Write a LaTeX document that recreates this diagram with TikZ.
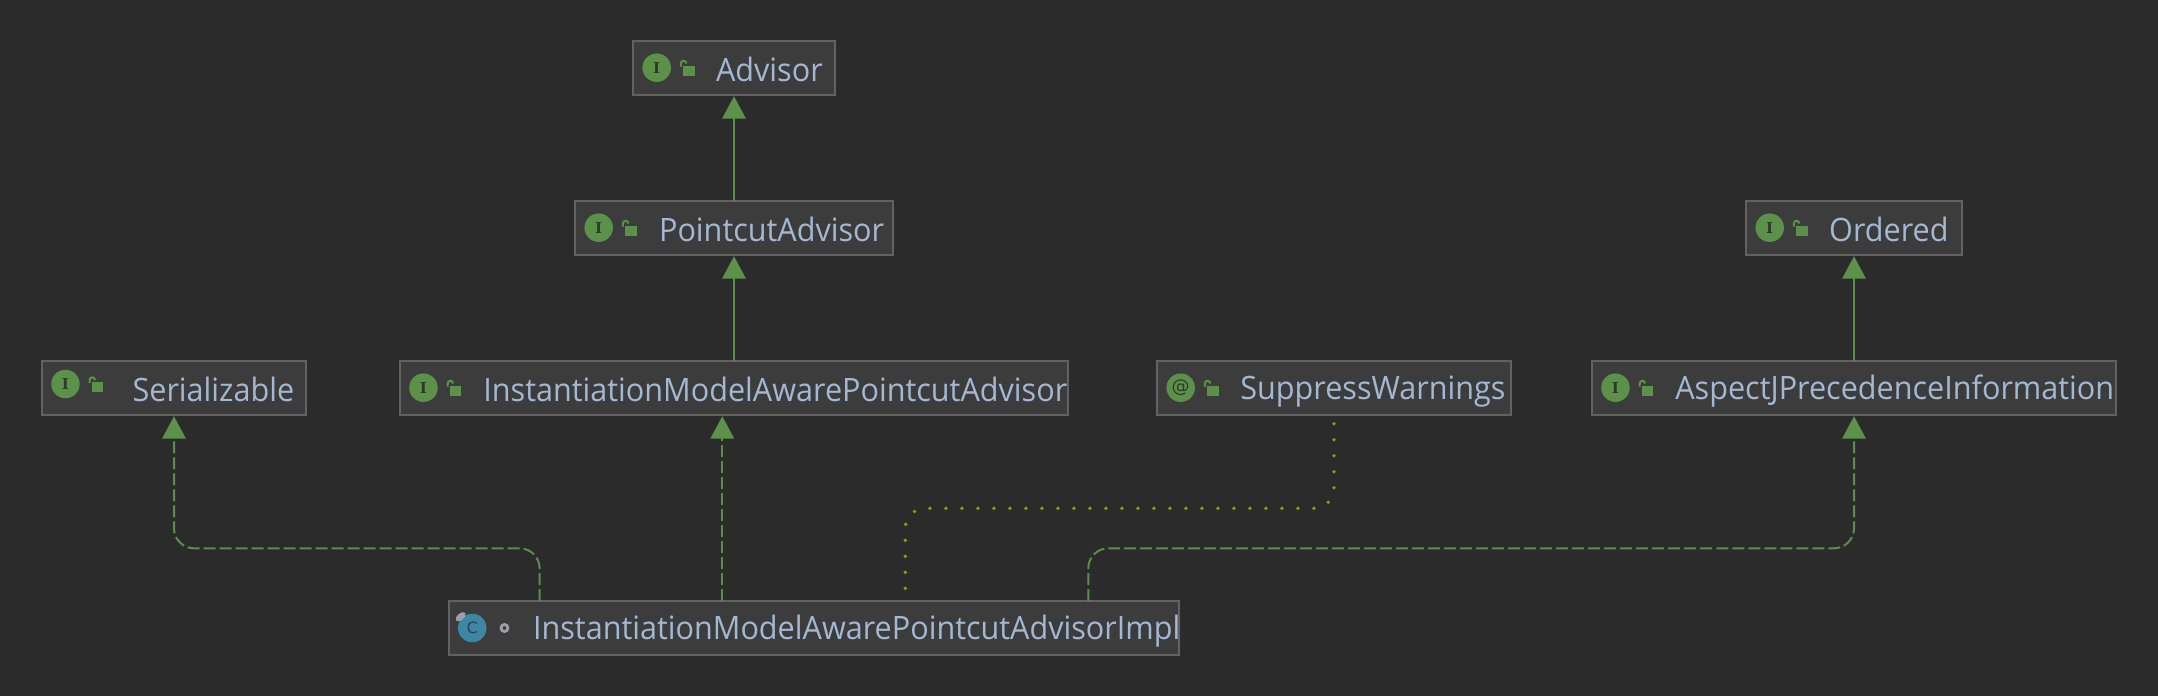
\documentclass[tikz,border=0pt]{standalone}
\usepackage{fontspec}
\setmainfont{Open Sans}[FakeStretch=0.95]
\newfontfamily\iconserif{DejaVu Serif}[BoldFont={DejaVu Serif Bold}]
\newfontfamily\iconsans{DejaVu Sans}
\usetikzlibrary{arrows.meta}
\definecolor{bgc}{HTML}{2B2B2B}
\definecolor{boxc}{HTML}{3C3C3C}
\definecolor{edgec}{HTML}{626262}
\definecolor{txtc}{HTML}{A3B8D2}
\definecolor{grn}{HTML}{5B9149}
\definecolor{grnline}{HTML}{5A8E4B}
\definecolor{dotc}{HTML}{9A9A00}
\definecolor{teal}{HTML}{3B87A5}
\definecolor{glyphc}{HTML}{2C3A28}
\definecolor{tealglyph}{HTML}{2B4050}
\definecolor{pinc}{HTML}{9AA0A6}
\tikzset{
  every node/.style={outer sep=0pt},
  classbox/.style={draw=edgec,fill=boxc,line width=1.7pt,inner sep=0pt,minimum height=54pt,text=txtc,
     font=\fontsize{32.2}{36}\selectfont},
  iconI/.style={circle,fill=grn,minimum size=28.5pt,inner sep=0pt,text=glyphc,font=\iconserif\bfseries\fontsize{15}{15}\selectfont},
  iconA/.style={circle,fill=grn,minimum size=28.5pt,inner sep=0pt,text=glyphc,font=\iconsans\fontsize{18}{18}\selectfont},
  iconC/.style={circle,fill=teal,minimum size=28.5pt,inner sep=0pt,text=tealglyph,font=\iconsans\fontsize{15.5}{16}\selectfont},
  tip/.style={-{Triangle[length=22.5pt,width=23.5pt,fill=grn,color=grn]},shorten >=1.2pt},
  inherit/.style={tip,draw=grnline,line width=2pt},
  implement/.style={tip,draw=grnline,line width=2pt,dash pattern=on 12pt off 4pt,rounded corners=20pt},
  usedby/.style={draw=dotc,line width=3.8pt,line cap=round,dash pattern=on 0pt off 16pt,rounded corners=20pt},
  lockmark/.style={fill=grn},
  lockarc/.style={draw=grn,line width=2.1pt}
}
% name, centre x, centre y, width, text offset, text
\newcommand{\umlbox}[6]{%
  \node[classbox,minimum width=#4pt] (#1) at (#2,#3)
    {\makebox[#4pt][l]{\hspace*{\dimexpr#5pt-1.4pt\relax}\rule[-4.4pt]{0pt}{35pt}#6}};}
\newcommand{\lockfor}[2]{%
  \fill[lockmark] ([shift={(50pt,#2pt+2.3pt)}]#1.west) rectangle ([shift={(61.6pt,#2pt-7.7pt)}]#1.west);
  \draw[lockarc] ([shift={(47.9pt,#2pt+1.5pt)}]#1.west) -- ++(0,3pt) arc (180:0:2.7pt);}
\begin{document}
\begin{tikzpicture}[x=1pt,y=-1pt]
\useasboundingbox (0,0) rectangle (2158,696);
\fill[bgc] (0,0) rectangle (2158,696);

\umlbox{adv}{734}{68}{202}{84.4}{Advisor}
\umlbox{point}{734}{228}{318}{85.5}{PointcutAdvisor}
\umlbox{ser}{174}{388}{264.5}{92.2}{Serializable}
\umlbox{inst}{734}{388}{668.5}{85}{InstantiationModelAwarePointcutAdvisor}
\umlbox{supp}{1334}{388}{354}{84.7}{SuppressWarnings}
\umlbox{ord}{1854}{228}{216}{84.6}{Ordered}
\umlbox{asp}{1854}{388}{524.5}{85}{AspectJPrecedenceInformation}
\umlbox{impl}{814}{628}{730.5}{85.7}{InstantiationModelAwarePointcutAdvisorImpl}

\node[iconI] (advi) at ([xshift=23.7pt,yshift=0.3pt]adv.west) {I};
\node[iconI] (pointi) at ([xshift=23.7pt,yshift=0.3pt]point.west) {I};
\node[iconI] (seri) at ([xshift=23.7pt,yshift=4pt]ser.west) {I};
\node[iconI] (insti) at ([xshift=23.7pt,yshift=0.3pt]inst.west) {I};
\node[iconA] (suppi) at ([xshift=23.7pt,yshift=0.3pt]supp.west) {@};
\node[iconI] (ordi) at ([xshift=23.7pt,yshift=0.3pt]ord.west) {I};
\node[iconI] (aspi) at ([xshift=23.7pt,yshift=0.3pt]asp.west) {I};
\lockfor{adv}{0}
\lockfor{point}{0}
\lockfor{ser}{3.4}
\lockfor{inst}{0}
\lockfor{supp}{0}
\lockfor{ord}{0}
\lockfor{asp}{0}

% class icon of the implementation
\node[iconC] (impli) at ([xshift=23.5pt]impl.west) {C};
\fill[pinc,rotate around={40:(460.7,616.7)}] (460.7,616.7) ellipse (6pt and 3.2pt);
\draw[pinc,line width=2.8pt] ([xshift=55.7pt]impl.west) circle (3.5pt);

% connectors
\draw[inherit] (point.north) -- (adv.south);
\draw[inherit] (inst.north) -- (point.south);
\draw[inherit] (asp.north) -- (ord.south);
\coordinate (serbend) at (174,548.3);
\coordinate (aspbend) at (1854,548.3);
\draw[implement] ([xshift=-274.4pt]impl.north) |- (serbend) -- (ser.south);
\draw[implement] ([xshift=-91.7pt]impl.north) -- ([xshift=-91.7pt]impl.north |- inst.south) ;
\draw[implement] ([xshift=274.3pt]impl.north) |- (aspbend) -- (asp.south);
\coordinate (suppbend) at (1334,508.3);
\draw[usedby,dash phase=3.3pt] ([xshift=91.3pt]impl.north) |- (suppbend) -- (supp.south);
\end{tikzpicture}
\end{document}
